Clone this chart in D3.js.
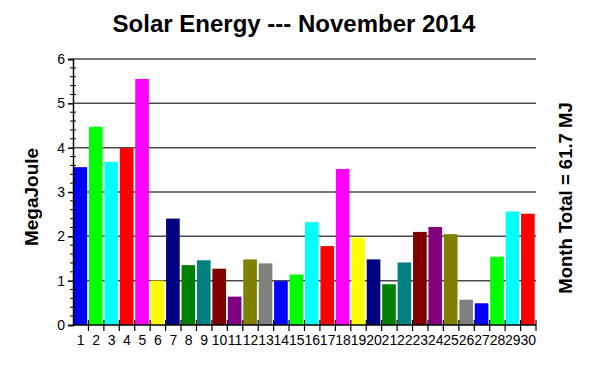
<!DOCTYPE html>
<html>
<head>
<meta charset="utf-8">
<script src="https://cdn.jsdelivr.net/npm/d3@7"></script>
<style>
  body { margin: 0; background: #fff; }
  text { font-family: Arial, "Liberation Sans", sans-serif; }
</style>
</head>
<body>
<svg id="chart" width="600" height="367"></svg>
<script>
const days = d3.range(1, 31);
const energy = [3.56, 4.47, 3.68, 3.99, 5.55, 1.0, 2.40, 1.35, 1.46, 1.27,
  0.64, 1.48, 1.39, 0.99, 1.14, 2.32, 1.78, 3.52, 1.97, 1.48,
  0.92, 1.41, 2.10, 2.21, 2.05, 0.57, 0.49, 1.54, 2.56, 2.51];
const palette = ["#0000ff", "#00ff00", "#00ffff", "#ff0000", "#ff00ff", "#ffff00",
  "#000080", "#008000", "#008080", "#800000", "#800080", "#808000", "#808080"];
const yTicks = [0, 1, 2, 3, 4, 5, 6];
const title = "Solar Energy --- November 2014";
const yLabel = "MegaJoule";
const totalLabel = "Month Total = 61.7 MJ";

const svg = d3.select("#chart");
const margins = [59, 64, 42, 73]; // top, right, bottom, left
const W = 600, H = 367;
const [mt, mr, mb, ml] = margins;

const x = d3.scaleBand().domain(days).range([ml, W - mr]).padding(0);
const y = d3.scaleLinear().domain([0, 6]).range([H - mb, mt]);

// grid lines
svg.append("g")
  .selectAll("line")
  .data(yTicks.slice(1))
  .join("line")
  .attr("x1", ml).attr("x2", W - mr)
  .attr("y1", d => y(d)).attr("y2", d => y(d))
  .attr("stroke", "#4a4a4a")
  .attr("stroke-width", 1.5);

// bars
svg.append("g")
  .selectAll("rect")
  .data(energy)
  .join("rect")
  .attr("x", (d, i) => x(days[i]) + 0.5)
  .attr("y", d => y(d))
  .attr("width", x.bandwidth() - 1.8)
  .attr("height", d => y(0) - y(d))
  .attr("fill", (d, i) => palette[i % palette.length]);

// y axis
const yAxis = svg.append("g")
  .attr("transform", `translate(${ml},0)`)
  .call(d3.axisLeft(y).tickValues(yTicks).tickSize(5).tickPadding(3).tickFormat(d3.format("d")));
yAxis.select(".domain").attr("stroke", "#000").attr("stroke-width", 1.5);
yAxis.selectAll(".tick line").attr("stroke", "#000").attr("stroke-width", 1.5);
yAxis.selectAll(".tick text").style("font-size", "14px").attr("fill", "#000");

// minor ticks every 0.2
const minor = d3.range(0, 6.01, 0.2).filter(v => Math.abs(v - Math.round(v)) > 0.01);
svg.append("g")
  .selectAll("line")
  .data(minor)
  .join("line")
  .attr("x1", ml - 3).attr("x2", ml + 3)
  .attr("y1", d => y(d)).attr("y2", d => y(d))
  .attr("stroke", "#000")
  .attr("stroke-width", 1);

// x axis
const xb = svg.append("g").attr("transform", `translate(0,${y(0)})`);
xb.append("line")
  .attr("x1", ml).attr("x2", W - mr)
  .attr("stroke", "#000").attr("stroke-width", 1.5);
xb.selectAll("line.sep")
  .data(days)
  .join("line")
  .attr("class", "sep")
  .attr("x1", d => x(d) + x.bandwidth()).attr("x2", d => x(d) + x.bandwidth())
  .attr("y1", -5).attr("y2", 6)
  .attr("stroke", "#000").attr("stroke-width", 1.2);
xb.selectAll("text")
  .data(days)
  .join("text")
  .attr("x", d => x(d) + x.bandwidth() / 2)
  .attr("y", 20)
  .attr("text-anchor", "middle")
  .style("font-size", "14px")
  .text(d => d);

// titles
svg.append("text")
  .attr("x", 294).attr("y", 32)
  .attr("text-anchor", "middle")
  .style("font-size", "24px").style("font-weight", "bold")
  .text(title);

svg.append("text")
  .attr("transform", "translate(38,197) rotate(-90)")
  .attr("text-anchor", "middle")
  .style("font-size", "19px").style("font-weight", "bold")
  .text(yLabel);

svg.append("text")
  .attr("transform", "translate(572,198) rotate(-90)")
  .attr("text-anchor", "middle")
  .style("font-size", "18.5px").style("font-weight", "bold")
  .text(totalLabel);
</script>
</body>
</html>
